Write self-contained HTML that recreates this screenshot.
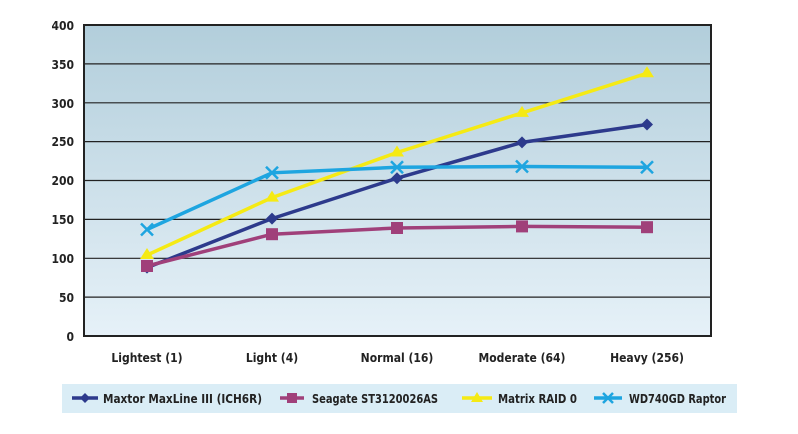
<!DOCTYPE html><html><head><style>body{margin:0;background:#fff}svg{display:block;font-family:"DejaVu Sans Condensed","Liberation Sans",sans-serif}</style></head><body>
<svg width="798" height="434" viewBox="0 0 798 434">
<defs><linearGradient id="g" x1="0" y1="0" x2="0" y2="1"><stop offset="0" stop-color="#b2cedb"/><stop offset="1" stop-color="#e6f1f8"/></linearGradient></defs>
<rect x="84" y="25" width="627" height="311" fill="url(#g)" stroke="#222" stroke-width="2"/>
<g stroke="#222" stroke-width="1.2">
<line x1="84" x2="711" y1="63.9" y2="63.9"/><line x1="84" x2="711" y1="102.8" y2="102.8"/><line x1="84" x2="711" y1="141.6" y2="141.6"/><line x1="84" x2="711" y1="180.5" y2="180.5"/><line x1="84" x2="711" y1="219.4" y2="219.4"/><line x1="84" x2="711" y1="258.3" y2="258.3"/><line x1="84" x2="711" y1="297.1" y2="297.1"/></g>
<g font-size="12" fill="#222" text-anchor="end" font-weight="bold">
<text x="74" y="30">400</text><text x="74" y="69">350</text><text x="74" y="108">300</text><text x="74" y="146">250</text><text x="74" y="185">200</text><text x="74" y="224">150</text><text x="74" y="263">100</text><text x="74" y="302">50</text><text x="74" y="341">0</text></g>
<g font-size="12" fill="#222" text-anchor="middle" font-weight="bold">
<text x="147" y="362">Lightest (1)</text><text x="272" y="362">Light (4)</text><text x="397" y="362">Normal (16)</text><text x="522" y="362">Moderate (64)</text><text x="647" y="362">Heavy (256)</text></g>
<g fill="none" stroke-width="3.5">
<polyline stroke="#f5ea14" points="147,255.1 272,197.6 397,152.5 522,112.9 647,73.3"/>
<polyline stroke="#2d3a8c" points="147,267.6 272,218.6 397,178.2 522,142.4 647,124.5"/>
<polyline stroke="#a0407a" points="147,266 272,234.2 397,228 522,226.4 647,227.2"/>
<polyline stroke="#1ea5e0" points="147,229.5 272,172.8 397,167.3 522,166.5 647,167.3"/>
</g>
<g fill="#f5ea14"><path d="M147,248l7,11h-14z"/><path d="M272,190.6l7,11h-14z"/><path d="M397,145.5l7,11h-14z"/><path d="M522,105.9l7,11h-14z"/><path d="M647,66.3l7,11h-14z"/></g>
<g fill="#2d3a8c"><path d="M147,261.6l6,6-6,6-6-6z"/><path d="M272,212.6l6,6-6,6-6-6z"/><path d="M397,172.2l6,6-6,6-6-6z"/><path d="M522,136.4l6,6-6,6-6-6z"/><path d="M647,118.5l6,6-6,6-6-6z"/></g>
<g fill="#a0407a"><rect x="141" y="260" width="12" height="12"/><rect x="266" y="228.2" width="12" height="12"/><rect x="391" y="222" width="12" height="12"/><rect x="516" y="220.4" width="12" height="12"/><rect x="641" y="221.2" width="12" height="12"/></g>
<g stroke="#1ea5e0" stroke-width="2.5"><path d="M141,223.5l12,12M153,223.5l-12,12"/><path d="M266,166.8l12,12M278,166.8l-12,12"/><path d="M391,161.3l12,12M403,161.3l-12,12"/><path d="M516,160.5l12,12M528,160.5l-12,12"/><path d="M641,161.3l12,12M653,161.3l-12,12"/></g>
<rect x="62" y="384" width="675" height="29" fill="#daedf6"/>
<g stroke-width="3.5"><line x1="72" x2="98" y1="398" y2="398" stroke="#2d3a8c"/><line x1="280" x2="304" y1="398" y2="398" stroke="#a0407a"/><line x1="462" x2="492" y1="398" y2="398" stroke="#f5ea14"/><line x1="594" x2="622" y1="398" y2="398" stroke="#1ea5e0"/></g>
<path d="M85,393l5,5-5,5-5-5z" fill="#2d3a8c"/><rect x="287" y="393" width="10" height="10" fill="#a0407a"/><path d="M477,392l6,10h-12z" fill="#f5ea14"/><path d="M603,393l10,10M613,393l-10,10" stroke="#1ea5e0" stroke-width="2.5"/>
<g font-size="12" fill="#222" font-weight="bold"><text x="103" y="403" textLength="159" lengthAdjust="spacingAndGlyphs">Maxtor MaxLine III (ICH6R)</text><text x="312" y="403" textLength="126" lengthAdjust="spacingAndGlyphs">Seagate ST3120026AS</text><text x="498" y="403" textLength="79" lengthAdjust="spacingAndGlyphs">Matrix RAID 0</text><text x="629" y="403" textLength="97" lengthAdjust="spacingAndGlyphs">WD740GD Raptor</text></g>
</svg></body></html>
